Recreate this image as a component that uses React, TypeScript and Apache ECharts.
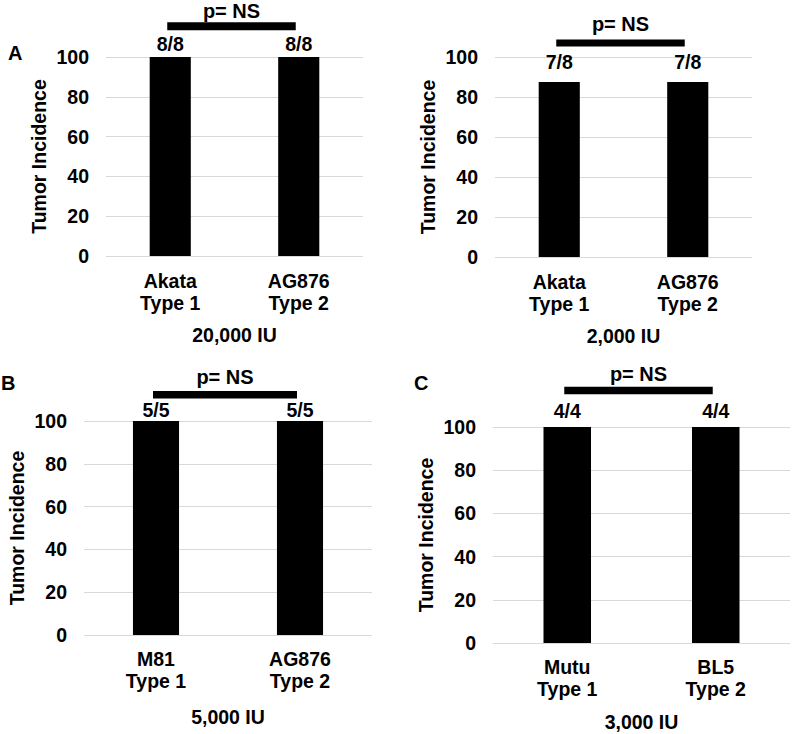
import React, { useEffect, useRef } from "react";
import * as echarts from "echarts";

// ---- data ----
const categoriesA = ["Akata\nType 1", "AG876\nType 2"];
const categoriesA2 = ["Akata\nType 1", "AG876\nType 2"];
const categoriesB = ["M81\nType 1", "AG876\nType 2"];
const categoriesC = ["Mutu\nType 1", "BL5\nType 2"];

const incidenceA = [100, 100];
const incidenceA2 = [87.5, 87.5];
const incidenceB = [100, 100];
const incidenceC = [100, 100];

const countsA = ["8/8", "8/8"];
const countsA2 = ["7/8", "7/8"];
const countsB = ["5/5", "5/5"];
const countsC = ["4/4", "4/4"];

const doses = ["20,000 IU", "2,000 IU", "5,000 IU", "3,000 IU"];
const bracketLevels = [115.4, 107, 112.3, 116.9];
const pLabels = ["p= NS", "p= NS", "p= NS", "p= NS"];
const panelLetters = ["A", "", "B", "C"];
const yTicks = [0, 20, 40, 60, 80, 100];

const FONT = "'Liberation Sans', Arial, sans-serif";

export default function App() {
  const ref = useRef<HTMLDivElement>(null);

  useEffect(() => {
    if (!ref.current) return;
    const chart = echarts.init(ref.current, undefined, { renderer: "svg" });

    const panels = [
      { cats: categoriesA, vals: incidenceA, counts: countsA },
      { cats: categoriesA2, vals: incidenceA2, counts: countsA2 },
      { cats: categoriesB, vals: incidenceB, counts: countsB },
      { cats: categoriesC, vals: incidenceC, counts: countsC },
    ];

    const grids = [
      { left: 106, top: 57, width: 257, height: 199 },
      { left: 495, top: 57, width: 257, height: 200 },
      { left: 84, top: 421, width: 288, height: 214 },
      { left: 493, top: 427, width: 297, height: 216 },
    ];
    const xLabelMargin = [14, 14, 13, 13];
    const xNameGap = [69, 69, 72, 69];
    const labelDist = [3, 10, 1, 6];
    const pGap = [1, 6, 4, 3];
    const bracketH = [8, 7, 7.5, 7.5];
    const letterPos = [
      { left: 8, top: 43 },
      { left: 0, top: 0 },
      { left: 1, top: 373 },
      { left: 414, top: 373 },
    ];

    const textBase = {
      fontFamily: FONT,
      fontWeight: "bold" as const,
      color: "#000",
      fontSize: 19.5,
    };

    const xAxis = panels.map((p, i) => ({
      type: "category" as const,
      gridIndex: i,
      data: p.cats,
      axisLine: { show: false },
      axisTick: { show: false },
      axisLabel: { ...textBase, margin: xLabelMargin[i], lineHeight: 22 },
      name: doses[i],
      nameLocation: "middle" as const,
      nameGap: xNameGap[i],
      nameTextStyle: { ...textBase },
    }));

    const yAxis = panels.map((_, i) => ({
      type: "value" as const,
      gridIndex: i,
      min: yTicks[0],
      max: yTicks[yTicks.length - 1],
      interval: yTicks[1] - yTicks[0],
      axisLine: { show: false },
      axisTick: { show: false },
      axisLabel: { ...textBase, margin: 17 },
      splitLine: { show: true, lineStyle: { color: "#d9d9d9", width: 1 } },
      name: "Tumor Incidence",
      nameLocation: "middle" as const,
      nameGap: 57,
      nameRotate: 90,
      nameTextStyle: { ...textBase },
    }));

    const barSeries = panels.map((p, i) => ({
      type: "bar" as const,
      xAxisIndex: i,
      yAxisIndex: i,
      data: p.vals,
      barWidth: "32%",
      itemStyle: { color: "#000" },
      label: {
        show: true,
        position: "top" as const,
        distance: labelDist[i],
        formatter: (params: any) => p.counts[params.dataIndex],
        ...textBase,
      },
    }));

    const bracketSeries = panels.map((_, i) => ({
      type: "custom" as const,
      xAxisIndex: i,
      yAxisIndex: i,
      clip: false,
      silent: true,
      data: [[0, bracketLevels[i]]],
      encode: { x: 0, y: 1 },
      renderItem: (params: any, api: any) => {
        const lvl = api.value(1);
        const p0 = api.coord([0, lvl]);
        const p1 = api.coord([1, lvl]);
        const h = bracketH[i];
        const x0 = p0[0] - 3;
        const x1 = p1[0] - 3;
        return {
          type: "group",
          children: [
            {
              type: "rect",
              shape: { x: x0, y: p0[1] - h / 2, width: x1 - x0, height: h },
              style: { fill: "#000" },
            },
            {
              type: "text",
              style: {
                text: pLabels[i],
                x: (x0 + x1) / 2,
                y: p0[1] - h / 2 - pGap[i],
                align: "center",
                verticalAlign: "bottom",
                fontSize: 20,
                fontWeight: "bold",
                fontFamily: FONT,
                fill: "#000",
              },
            },
          ],
        };
      },
    }));

    const graphic = panelLetters
      .map((t, i) =>
        t
          ? {
              type: "text",
              left: letterPos[i].left,
              top: letterPos[i].top,
              style: {
                text: t,
                fontSize: 20,
                fontWeight: "bold",
                fontFamily: FONT,
                fill: "#000",
              },
            }
          : null
      )
      .filter(Boolean);

    chart.setOption({
      animation: false,
      backgroundColor: "#fff",
      grid: grids,
      xAxis,
      yAxis,
      series: [...barSeries, ...bracketSeries],
      graphic,
    });

    return () => chart.dispose();
  }, []);

  return (
    <div
      ref={ref}
      style={{ position: "fixed", left: 0, top: 0, width: 792, height: 734 }}
    />
  );
}
